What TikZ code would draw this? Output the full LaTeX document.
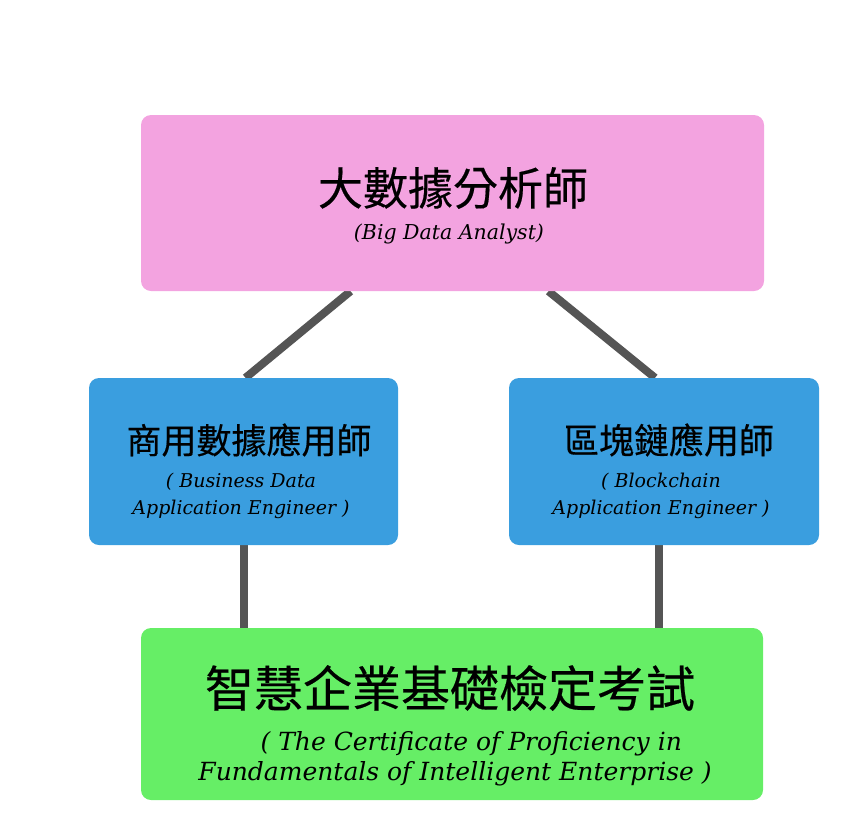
\documentclass[tikz,border=0pt]{standalone}
\usepackage{fontspec}
\setmainfont{DejaVu Serif}
\newfontfamily\cjk[FakeBold=0.4]{Noto Sans CJK TC}
\usetikzlibrary{backgrounds}
\definecolor{pinkbox}{HTML}{F3A3E0}
\definecolor{bluebox}{HTML}{3A9EDF}
\definecolor{greenbox}{HTML}{66EE66}
\definecolor{connc}{HTML}{555555}
\tikzset{
  box/.style={rounded corners=10pt, inner sep=0pt, draw=none},
  conn/.style={draw=connc, line width=8pt},
  zh/.style={inner sep=0pt, anchor=center},
  en/.style={inner sep=0pt, anchor=center, align=center},
}
\begin{document}
\begin{tikzpicture}[x=1pt,y=-1pt]
\useasboundingbox (0,0) rectangle (853,822);
% boxes
\node[box, fill=pinkbox, minimum width=623pt, minimum height=176pt] (pink) at (452.5,203) {};
\node[box, fill=bluebox, minimum width=309pt, minimum height=167pt] (bl) at (243.5,461.5) {};
\node[box, fill=bluebox, minimum width=310pt, minimum height=167pt] (br) at (664,461.5) {};
\node[box, fill=greenbox, minimum width=622pt, minimum height=172pt] (green) at (452,714) {};
% texts
\node[zh, font=\cjk\fontsize{45}{48}\selectfont] (t1) at (453,188) {大數據分析師};
\node[en, font=\fontsize{20.5}{24}\selectfont\itshape] (e1) at (449,234) {(Big Data Analyst)};
\node[zh, font=\cjk\fontsize{35}{40}\selectfont] (t2) at (249,440) {商用數據應用師};
\node[en, font=\fontsize{19}{27}\selectfont\itshape] (e2) at (241,496) {( Business Data\\ Application Engineer )};
\node[zh, font=\cjk\fontsize{35}{40}\selectfont] (t3) at (669,440) {區塊鏈應用師};
\node[en, font=\fontsize{19}{27}\selectfont\itshape] (e3) at (661,496) {( Blockchain\\ Application Engineer )};
\node[zh, font=\cjk\fontsize{49}{54}\selectfont] (t4) at (450,688) {智慧企業基礎檢定考試};
\node[en, font=\fontsize{25}{30}\selectfont\itshape] (e4) at (455,759) {\hspace*{1.3em}( The Certificate of Proficiency in\\ Fundamentals of Intelligent Enterprise )};
% connectors
\begin{scope}[on background layer]
\draw[conn] ([xshift=-102pt]pink.south) -- ([xshift=2pt]bl.north);
\draw[conn] ([xshift=96pt]pink.south) -- ([xshift=-9pt]br.north);
\draw[conn] (bl.south) -- (bl.south |- green.north);
\draw[conn] ([xshift=-5pt]br.south) -- ([xshift=-5pt]br.south |- green.north);
\end{scope}
\end{tikzpicture}
\end{document}
